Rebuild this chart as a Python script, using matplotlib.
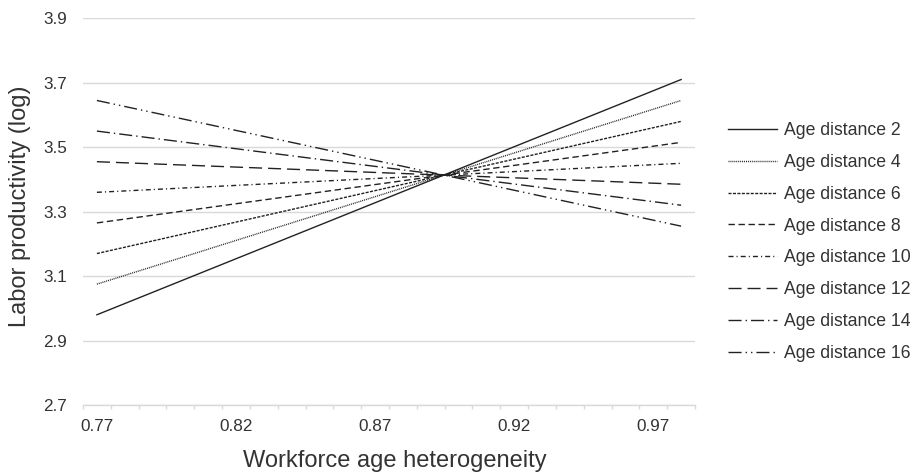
import matplotlib
matplotlib.use("Agg")
import matplotlib.pyplot as plt

plt.rcParams['font.family'] = ['Liberation Sans', 'DejaVu Sans']

# data
heterogeneity = [0.77, 0.98]
age_distance = [2, 4, 6, 8, 10, 12, 14, 16]
start_values = [2.98, 3.075, 3.17, 3.265, 3.36, 3.455, 3.55, 3.645]
end_values = [3.71, 3.645, 3.58, 3.515, 3.45, 3.385, 3.32, 3.255]
x_labels = [0.77, 0.82, 0.87, 0.92, 0.97]
y_ticks = [2.7, 2.9, 3.1, 3.3, 3.5, 3.7, 3.9]

# Excel-ish dash styles, one per series
dash_styles = [
    '-',
    (0, (0.7, 0.7)),
    (0, (2.2, 1.0)),
    (0, (4.6, 2.6)),
    (0, (3.6, 2.2, 0.8, 2.2)),
    (0, (9.4, 4.3)),
    (0, (9.4, 2.9, 1.0, 2.9)),
    (0, (9.4, 2.9, 1.0, 2.9, 1.0, 2.9)),
]

text_color = '#333333'
grid_color = '#d9d9d9'
line_color = '#222222'

fig = plt.figure(figsize=(9.14, 4.75), dpi=100)
ax = fig.add_axes([83 / 914, 1 - 405 / 475, 612 / 914, (405 - 18.3) / 475])

for i in range(len(age_distance)):
    ax.plot(heterogeneity, [start_values[i], end_values[i]],
            linestyle=dash_styles[i], color=line_color, lw=1.0,
            label=f'Age distance {age_distance[i]}')

ax.set_xlim(0.765, 0.985)
ax.set_ylim(2.7, 3.9)
ax.set_yticks(y_ticks)
ax.set_yticklabels([f'{v:.1f}' for v in y_ticks])
ax.set_xticks(x_labels)
ax.set_xticklabels([f'{v:.2f}' for v in x_labels])
ax.set_xticks([0.765 + 0.01 * k for k in range(23)], minor=True)

ax.grid(axis='y', color=grid_color, lw=1.0)
ax.set_axisbelow(True)
for side in ['top', 'right', 'left']:
    ax.spines[side].set_visible(False)
ax.spines['bottom'].set_color(grid_color)
ax.spines['bottom'].set_linewidth(1.0)

ax.tick_params(axis='y', length=0, pad=11.5, labelsize=12.3, labelcolor=text_color)
ax.tick_params(axis='x', which='major', length=0, pad=10, labelsize=12.3, labelcolor=text_color)
ax.tick_params(axis='x', which='minor', length=3, width=1.0, color=grid_color)

fig.text(20 / 914, 1 - 206 / 475, 'Labor productivity (log)', rotation=90,
         ha='center', va='center', fontsize=17, color=text_color)
fig.text(395 / 914, 1 - 467 / 475, 'Workforce age heterogeneity',
         ha='center', va='baseline', fontsize=17, color=text_color)

fig.legend(loc='center left', bbox_to_anchor=(728 / 914, 1 - 242 / 475),
           frameon=False, fontsize=12.7, labelcolor=text_color,
           handlelength=2.8, handletextpad=0.4, labelspacing=0.84,
           borderpad=0, borderaxespad=0)

fig.savefig('out.png', dpi=100)
